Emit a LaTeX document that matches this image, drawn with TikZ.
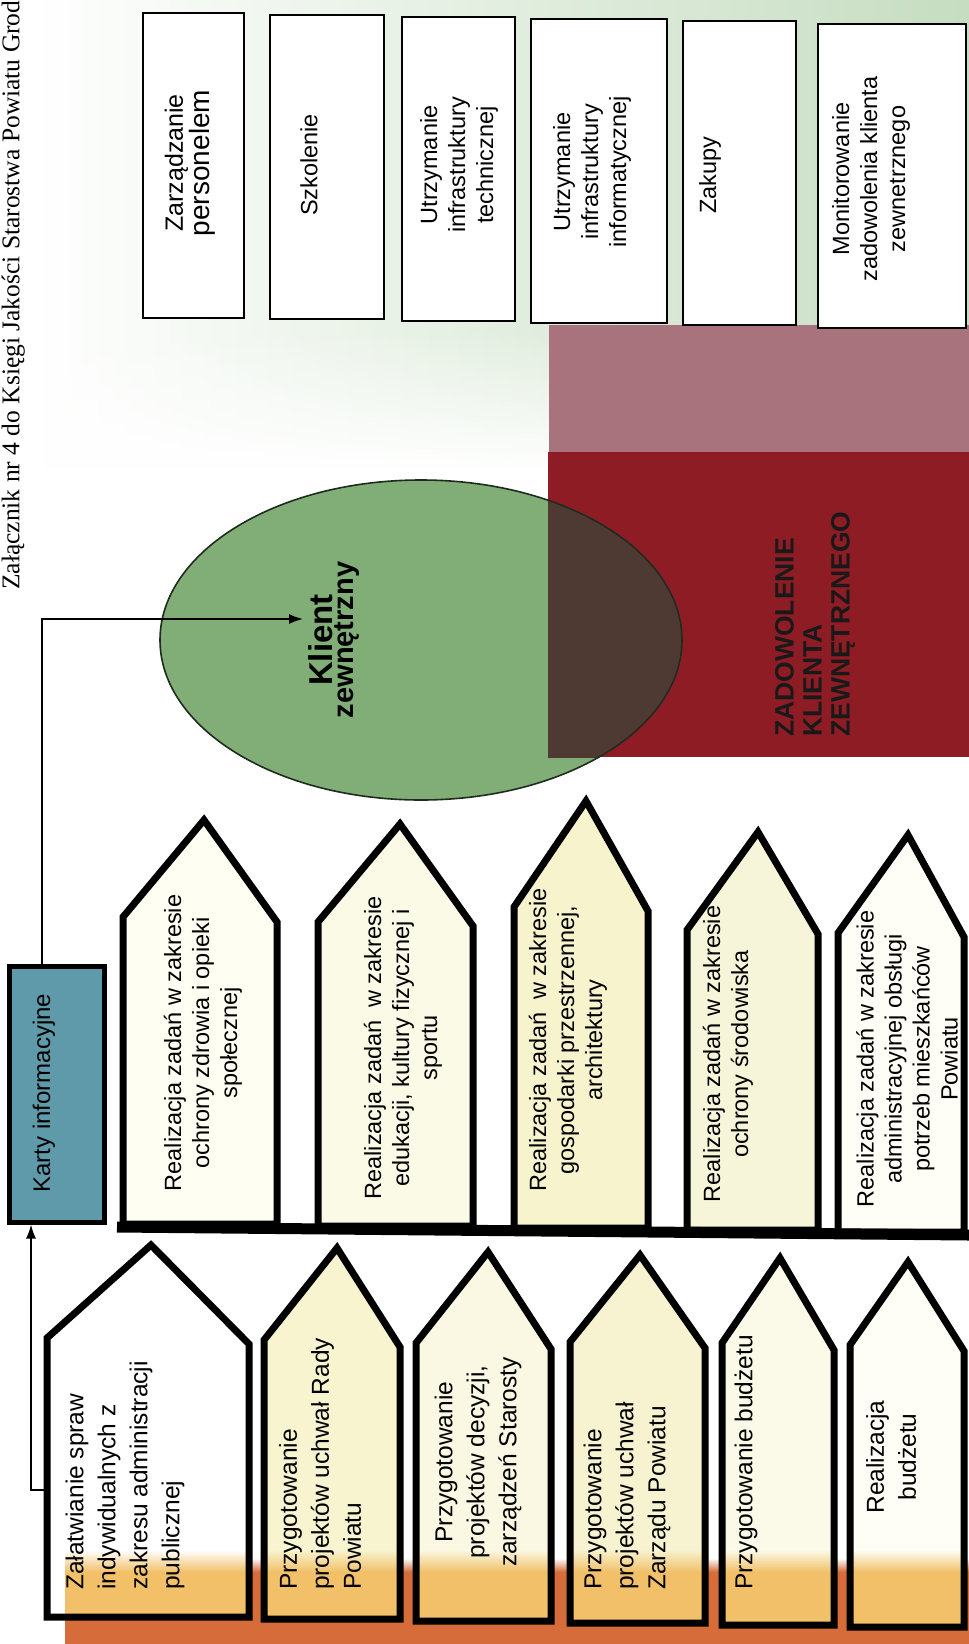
\documentclass[tikz,border=0pt]{standalone}
\usepackage{fontspec}
\setmainfont{Liberation Sans}
\newfontfamily\headfont{Liberation Serif}
\usetikzlibrary{arrows.meta,fadings}

% palette
\definecolor{gbg}{HTML}{C6DDC1}
\definecolor{ellgreen}{HTML}{80AE76}
\definecolor{ellline}{HTML}{1E2B1E}
\definecolor{mauve}{HTML}{A8737D}
\definecolor{deepred}{HTML}{8D1C24}
\definecolor{overlapc}{HTML}{4E3A33}
\definecolor{kartyteal}{HTML}{5E9AAA}
\definecolor{banddark}{HTML}{D66C3A}
\definecolor{bandlight}{HTML}{F1C068}
\definecolor{mfillA}{HTML}{FFFEF2}
\definecolor{mfillB}{HTML}{FBFAE6}
\definecolor{mfillC}{HTML}{F7F3CC}
\definecolor{mfillD}{HTML}{F7F5D9}
\definecolor{mfillE}{HTML}{FEFEF7}
\definecolor{bfillA}{HTML}{FFFFFF}
\definecolor{bfillB}{HTML}{F8F4D0}
\definecolor{bfillC}{HTML}{FAF8E2}
\definecolor{bfillD}{HTML}{F7F3D0}
\definecolor{bfillE}{HTML}{FBFAE8}
\definecolor{bfillF}{HTML}{FEFEF6}

\tikzfading[name=fadedown, top color=transparent!0, bottom color=transparent!100]

% house-shaped process blocks: fill, x-left, x-right, peak x, peak y, shoulder y left, shoulder y right, base y
\newcommand\midhouse[8]{%
  \filldraw[pentline, fill=#1] (#2,#8) -- (#2,#6) -- (#4,#5) -- (#3,#7) -- (#3,#8) -- cycle;}
\newcommand\bothouse[8]{%
  \fill[#1] (#2,#8) -- (#2,#6) -- (#4,#5) -- (#3,#7) -- (#3,#8) -- cycle;
  \begin{scope}
    \clip (#2,#8) -- (#2,#6) -- (#4,#5) -- (#3,#7) -- (#3,#8) -- cycle;
    \clip (65,1500) rectangle (969,1650);
    \shade[top color=#1, bottom color=bandlight] (#2,1550) rectangle (#3,1572);
    \fill[bandlight] (#2,1571.5) rectangle (#3,1650);
  \end{scope}
  \draw[pentline] (#2,#8) -- (#2,#6) -- (#4,#5) -- (#3,#7) -- (#3,#8) -- cycle;}

\begin{document}
\begin{tikzpicture}[x=1pt,y=-1pt,
  pentline/.style={draw=black, line width=7pt, line join=miter, miter limit=10},
  topbox/.style={draw=black, line width=2.6pt, fill=white, inner sep=0pt},
  lbl/.style={rotate=90, inner sep=0pt, align=center, text=black},
  topfont/.style={font=\fontsize{23.5}{28}\selectfont},
  midfont/.style={font=\fontsize{23.5}{28}\selectfont},
  botfont/.style={font=\fontsize{24.5}{32}\selectfont},
  conn/.style={draw=black, line width=1.5pt, -{Latex[length=14pt,width=10pt]}}]

\useasboundingbox (0,0) rectangle (969,1644);
\clip (0,0) rectangle (969,1644);
\fill[white] (0,0) rectangle (969,1644);

% green backdrop behind the support processes
\shade[left color=white, middle color=gbg!70, right color=gbg] (30,0) rectangle (969,330);
\shade[left color=white, middle color=gbg!70, right color=gbg, path fading=fadedown] (30,329) rectangle (969,470);

% satisfaction bands
\fill[mauve] (549,325) rectangle (969,453);
\fill[deepred] (548,452) rectangle (969,757);

% external client
\fill[ellgreen] (421,640) ellipse [x radius=261pt, y radius=160pt];
\begin{scope}
  \clip (548,452) rectangle (969,757);
  \fill[overlapc] (421,640) ellipse [x radius=261pt, y radius=160pt];
\end{scope}
\draw[ellline, line width=1.6pt] (421,640) ellipse [x radius=261pt, y radius=160pt];

\node[lbl, font=\bfseries] (klient) at (334,640)
  {{\fontsize{33}{36}\selectfont Klient}\\{\fontsize{29}{36}\selectfont zewnętrzny}};
\node[lbl, anchor=west, align=left, font=\bfseries\fontsize{26.5}{28}\selectfont, text=black!90] (zadow) at (815,737)
  {ZADOWOLENIE\\KLIENTA\\ZEWNĘTRZNEGO};

% support processes
\node[topbox, minimum width=101pt, minimum height=305pt] (box1) at (193.5,165.5) {};
\node[topbox, minimum width=114pt, minimum height=304pt] (box2) at (327,167) {};
\node[topbox, minimum width=113pt, minimum height=304pt] (box3) at (458.5,169) {};
\node[topbox, minimum width=136pt, minimum height=304pt] (box4) at (599,171) {};
\node[topbox, minimum width=113pt, minimum height=304pt] (box5) at (739.5,173) {};
\node[topbox, minimum width=148pt, minimum height=304pt] (box6) at (892,176) {};

\node[lbl] (t1) at (190,163)
  {{\fontsize{25}{28}\selectfont Zarządzanie}\\{\fontsize{28}{28}\selectfont personelem}};
\node[lbl, topfont] (t2) at (309,165) {Szkolenie};
\node[lbl, topfont] (t3) at (459,165) {Utrzymanie\\infrastruktury\\technicznej};
\node[lbl, topfont] (t4) at (592,172) {Utrzymanie\\infrastruktury\\informatycznej};
\node[lbl, topfont] (t5) at (710,175) {Zakupy};
\node[lbl, topfont] (t6) at (871,179) {Monitorowanie\\zadowolenia klienta\\zewnetrznego};

% information cards
\node[draw=black, line width=5pt, fill=kartyteal, minimum width=95pt, minimum height=256pt, inner sep=0pt] (karty) at (56.5,1094) {};
\node[lbl, font=\fontsize{24}{28}\selectfont] (kartyt) at (44,1093) {Karty informacyjne};

% task realisation blocks
\midhouse{mfillA}{123}{277}{204}{820}{917}{922}{1224}
\midhouse{mfillB}{318}{473}{400}{824}{922}{926}{1226}
\midhouse{mfillC}{514}{648}{586}{801}{907}{911}{1228}
\midhouse{mfillD}{687}{818}{758}{832}{930}{934}{1230}
\midhouse{mfillE}{838}{964}{908}{835}{933}{937}{1232}
\draw[line width=11pt] (117,1227) -- (969,1235);

\node[lbl, midfont] (m1) at (203,1043) {Realizacja zadań w zakresie\\ochrony zdrowia i opieki\\społecznej};
\node[lbl, midfont] (m2) at (403,1048) {Realizacja zadań~ w zakresie\\edukacji, kultury fizycznej i\\sportu};
\node[lbl, midfont] (m3) at (568,1040) {Realizacja zadań~ w zakresie\\gospodarki przestrzennej,\\architektury};
\node[lbl, midfont] (m4) at (728,1054) {Realizacja zadań w zakresie\\ochrony środowiska};
\node[lbl, midfont] (m5) at (907,1059) {Realizacja zadań w zakresie\\administracyjnej obsługi\\potrzeb mieszkańców\\Powiatu};

% orange base band and the administrative blocks on it
\shade[top color=white, bottom color=banddark] (65,1558) rectangle (969,1572);
\fill[banddark] (65,1571.5) rectangle (969,1644);

\bothouse{bfillA}{47}{249}{151}{1245}{1338}{1344}{1617}
\bothouse{bfillB}{264}{400}{337}{1248}{1340}{1347}{1619}
\bothouse{bfillC}{416}{551}{488}{1252}{1343}{1349}{1621}
\bothouse{bfillD}{570}{705}{640}{1255}{1342}{1348}{1623}
\bothouse{bfillE}{722}{834}{780}{1258}{1343}{1350}{1625}
\bothouse{bfillF}{850}{964}{908}{1262}{1345}{1351}{1627}

\node[lbl, botfont, anchor=west, align=left] (p1) at (125,1590) {Załatwianie spraw\\indywidualnych z\\zakresu administracji\\publicznej};
\node[lbl, botfont, anchor=west, align=left] (p2) at (320,1590) {Przygotowanie\\projektów uchwał Rady\\Powiatu};
\node[lbl, botfont] (p3) at (478,1462) {Przygotowanie\\projektów decyzji,\\zarządzeń Starosty};
\node[lbl, botfont, anchor=west, align=left] (p4) at (627,1590) {Przygotowanie\\projektów uchwał\\Zarządu Powiatu};
\node[lbl, botfont, anchor=west, align=left] (p5) at (746,1590) {Przygotowanie budżetu};
\node[lbl, botfont] (p6) at (891,1457) {Realizacja\\budżetu};

% connectors
\coordinate (elbowA) at (42,619);
\coordinate (klientTip) at (303,619);
\draw[conn] (karty.north -| elbowA) -- (elbowA) -- (klientTip);
\coordinate (p1port) at (47,1490);
\coordinate (elbowB) at (31,1490);
\draw[conn] (p1port) -- (elbowB) -- (karty.south -| elbowB);

% page header
\node[rotate=90, anchor=base west, inner sep=0pt, font=\headfont\fontsize{25.5}{28}\selectfont] (hdr) at (19.5,590)
  {Załącznik nr 4 do Księgi Jakości Starostwa Powiatu Grod};
\end{tikzpicture}
\end{document}
